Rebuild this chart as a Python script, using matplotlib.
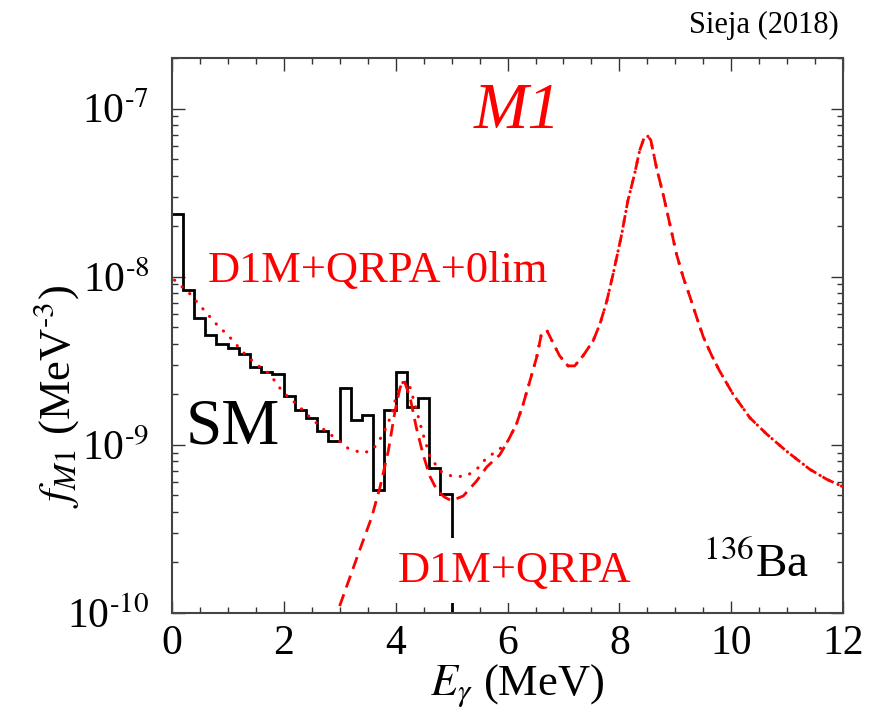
import numpy as np
import matplotlib.pyplot as plt
from matplotlib.ticker import MultipleLocator, LogLocator, FuncFormatter

plt.rcParams['font.family'] = ['Liberation Serif', 'DejaVu Serif']
plt.rcParams['mathtext.fontset'] = 'stix'

# shell model histogram, 0.2 MeV bins from 0 to 5.2 MeV
sm_edges = np.round(np.arange(0, 5.21, 0.2), 2)
sm_vals = [2.36e-8, 8.3e-9, 5.67e-9, 4.52e-9, 3.97e-9, 3.76e-9, 3.49e-9,
           2.91e-9, 2.73e-9, 2.65e-9, 1.96e-9, 1.61e-9, 1.44e-9, 1.21e-9,
           1.05e-9, 2.19e-9, 1.40e-9, 1.51e-9, 5.37e-10, 1.61e-9, 2.73e-9,
           1.68e-9, 1.91e-9, 7.26e-10, 5.13e-10, 1.0e-10]

# D1M+QRPA+0lim below 6 MeV
lim_E = [0.05, 0.33, 0.51, 0.80, 1.04, 1.28, 1.51, 1.75, 1.99, 2.23, 2.47,
         2.71, 2.95, 3.15, 3.42, 3.60, 3.78, 3.93, 4.02, 4.14, 4.26, 4.36,
         4.49, 4.61, 4.79, 5.03, 5.27, 5.48, 5.63, 5.80, 5.95]
lim_f = [9.55e-9, 7.89e-9, 6.71e-9, 5.22e-9, 4.36e-9, 3.54e-9, 3.02e-9,
         2.64e-9, 2.05e-9, 1.75e-9, 1.46e-9, 1.24e-9, 1.08e-9, 9.55e-10,
         8.91e-10, 9.42e-10, 1.16e-9, 1.52e-9, 2.00e-9, 2.38e-9, 2.19e-9,
         1.67e-9, 1.16e-9, 8.61e-10, 7.00e-10, 6.46e-10, 6.53e-10, 7.33e-10,
         8.41e-10, 9.12e-10, 1.0e-9]

# D1M+QRPA below 6 MeV
qrpa_E = [3.00, 3.33, 3.57, 3.72, 3.87, 3.99, 4.08, 4.15, 4.26, 4.37, 4.49,
          4.61, 4.73, 4.87, 5.00, 5.21, 5.45, 5.63, 5.86]
qrpa_f = [1.10e-10, 2.23e-10, 3.69e-10, 5.57e-10, 9.20e-10, 1.59e-9, 2.19e-9,
          2.43e-9, 1.91e-9, 1.27e-9, 8.81e-10, 6.53e-10, 5.45e-10, 4.90e-10,
          4.65e-10, 4.97e-10, 6.11e-10, 7.40e-10, 8.71e-10]

# common part of both curves above 6 MeV
tail_E = [6.01, 6.16, 6.28, 6.40, 6.52, 6.60, 6.70, 6.81, 6.93, 7.08, 7.20,
          7.35, 7.53, 7.65, 7.77, 7.89, 8.04, 8.15, 8.27, 8.36, 8.44, 8.50,
          8.56, 8.66, 8.78, 8.90, 9.02, 9.14, 9.26, 9.38, 9.50, 9.65, 9.79,
          10.03, 10.33, 10.63, 10.98, 11.40, 11.70, 12.0]
tail_f = [1.06e-9, 1.33e-9, 1.75e-9, 2.40e-9, 3.31e-9, 4.47e-9, 4.82e-9,
          4.06e-9, 3.39e-9, 2.95e-9, 2.95e-9, 3.39e-9, 4.16e-9, 5.22e-9,
          7.08e-9, 1.05e-8, 1.79e-8, 2.83e-8, 4.08e-8, 5.62e-8, 6.70e-8,
          6.90e-8, 6.50e-8, 4.48e-8, 3.10e-8, 2.06e-8, 1.36e-8, 9.91e-9,
          7.59e-9, 5.73e-9, 4.37e-9, 3.39e-9, 2.75e-9, 2.00e-9, 1.45e-9,
          1.16e-9, 9.20e-10, 7.16e-10, 6.25e-10, 5.62e-10]

y_ticks = [1e-10, 1e-9, 1e-8, 1e-7]

fig = plt.figure(figsize=(8.77, 7.27), dpi=100)
ax = fig.add_axes([0.1958, 0.1568, 0.7658, 0.7634])

red = '#ff0000'
ax.stairs(sm_vals, sm_edges, baseline=None, color='k', lw=2.0, zorder=2)
ax.plot(lim_E + tail_E, lim_f + tail_f, color=red, lw=2.2,
        linestyle=(0, (0.1, 3.2)), dash_capstyle='round', zorder=3)
ax.plot(qrpa_E + tail_E, qrpa_f + tail_f, color=red, lw=2.0,
        linestyle=(0, (4.5, 2.6)), zorder=3)

ax.set_yscale('log')
ax.set_xlim(0, 12)
ax.set_ylim(1e-10, 2e-7)
ax.xaxis.set_major_locator(MultipleLocator(2))
ax.xaxis.set_minor_locator(MultipleLocator(0.5))
ax.set_yticks(y_ticks)
ax.yaxis.set_minor_locator(LogLocator(subs=np.arange(2, 10)))
ax.yaxis.set_major_formatter(
    FuncFormatter(lambda v, p: r'10$^{\text{-}%d}$' % round(-np.log10(v))))
ax.tick_params(which='both', direction='in', top=True, right=True,
               labelsize=30, width=1.0, color='#333333')
ax.tick_params(which='major', length=9)
ax.tick_params(which='minor', length=4.5)
ax.tick_params(axis='y', pad=16)
ax.tick_params(axis='x', pad=8)
for s in ax.spines.values():
    s.set_linewidth(1.5)
    s.set_color('#444444')

ax.text(0.514, 0.874, 'M1', transform=ax.transAxes, color=red, fontsize=47,
        fontstyle='italic', ha='center', va='baseline')
ax.text(0.053, 0.596, 'D1M+QRPA+0lim', transform=ax.transAxes, color=red,
        fontsize=32, va='baseline')
ax.text(0.020, 0.306, 'SM', transform=ax.transAxes, color='k', fontsize=47,
        va='baseline')
ax.text(0.336, 0.056, 'D1M+QRPA', transform=ax.transAxes, color=red,
        fontsize=32, va='baseline', zorder=5,
        bbox=dict(facecolor='white', edgecolor='none', pad=9))
ax.text(0.791, 0.065, '$^{136}$Ba', transform=ax.transAxes, color='k',
        fontsize=34, va='baseline')
fig.text(0.956, 0.955, 'Sieja (2018)', fontsize=22, ha='right',
         va='baseline')

ax.text(-0.172, 0.39, r'$f_{\mathit{M1}}$ (MeV$^{\text{-}3}$)',
        transform=ax.transAxes, fontsize=32, rotation=90,
        ha='center', va='center')
ax.text(0.514, -0.148, r'$E_{\gamma}$ (MeV)', transform=ax.transAxes,
        fontsize=32, ha='center', va='baseline')

fig.savefig('out.png', dpi=100)
